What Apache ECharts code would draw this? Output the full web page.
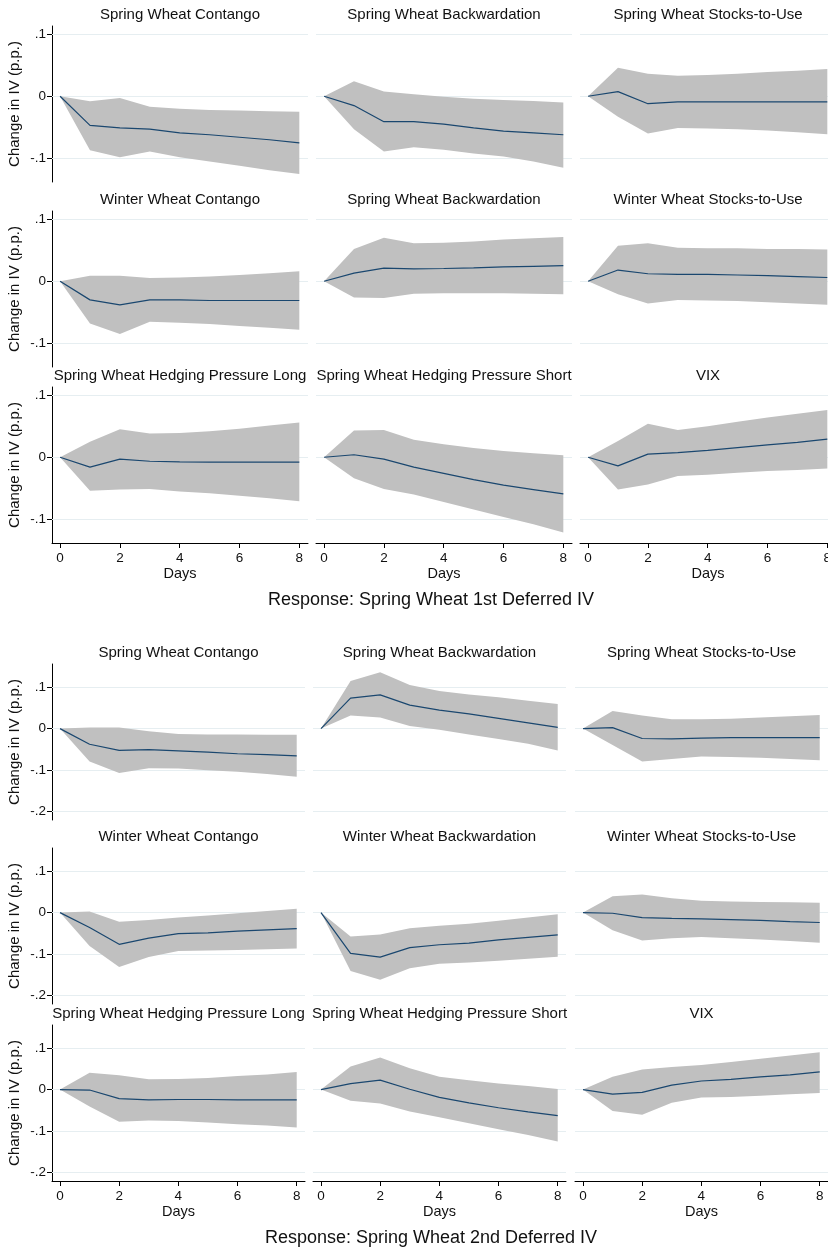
<!DOCTYPE html>
<html>
<head>
<meta charset="utf-8">
<title>Impulse responses</title>
<script src="https://cdn.jsdelivr.net/npm/echarts@6/dist/echarts.min.js"></script>
<style>
  html, body { margin: 0; padding: 0; background: #fff; }
  #irfChart { width: 828px; height: 1251px; }
</style>
</head>
<body>
<div id="irfChart"></div>
<script>
const days = [0, 1, 2, 3, 4, 5, 6, 7, 8];
const xTicks = [0, 2, 4, 6, 8];
const yTicksFirst = [-0.1, 0, 0.1];
const yTicksSecond = [-0.2, -0.1, 0, 0.1];
const panelTitles = [
  'Spring Wheat Contango', 'Spring Wheat Backwardation', 'Spring Wheat Stocks-to-Use',
  'Winter Wheat Contango', 'Spring Wheat Backwardation', 'Winter Wheat Stocks-to-Use',
  'Spring Wheat Hedging Pressure Long', 'Spring Wheat Hedging Pressure Short', 'VIX'
];
const panelTitlesSecond = [
  'Spring Wheat Contango', 'Spring Wheat Backwardation', 'Spring Wheat Stocks-to-Use',
  'Winter Wheat Contango', 'Winter Wheat Backwardation', 'Winter Wheat Stocks-to-Use',
  'Spring Wheat Hedging Pressure Long', 'Spring Wheat Hedging Pressure Short', 'VIX'
];
const responseTitles = ['Response: Spring Wheat 1st Deferred IV', 'Response: Spring Wheat 2nd Deferred IV'];

// Response: 1st deferred IV (irf, lower bound, upper bound)
const a1Irf = [0, -0.047, -0.051, -0.053, -0.059, -0.062, -0.066, -0.070, -0.075];
const a1Lo = [0, -0.087, -0.098, -0.089, -0.098, -0.105, -0.112, -0.119, -0.125];
const a1Hi = [0, -0.008, -0.003, -0.017, -0.020, -0.022, -0.023, -0.024, -0.025];
const a2Irf = [0, -0.015, -0.041, -0.041, -0.045, -0.051, -0.056, -0.059, -0.062];
const a2Lo = [0, -0.053, -0.089, -0.082, -0.086, -0.092, -0.097, -0.105, -0.115];
const a2Hi = [0, 0.024, 0.0075, 0.003, -0.001, -0.004, -0.006, -0.0075, -0.010];
const a3Irf = [0, 0.0075, -0.012, -0.009, -0.009, -0.009, -0.009, -0.009, -0.009];
const a3Lo = [0, -0.033, -0.060, -0.051, -0.052, -0.053, -0.055, -0.058, -0.061];
const a3Hi = [0, 0.046, 0.036, 0.033, 0.034, 0.036, 0.039, 0.041, 0.044];
const a4Irf = [0, -0.030, -0.038, -0.030, -0.030, -0.031, -0.031, -0.031, -0.031];
const a4Lo = [0, -0.068, -0.085, -0.065, -0.067, -0.069, -0.072, -0.075, -0.078];
const a4Hi = [0, 0.009, 0.009, 0.005, 0.006, 0.0075, 0.010, 0.013, 0.016];
const a5Irf = [0, 0.013, 0.021, 0.020, 0.0205, 0.0215, 0.023, 0.024, 0.025];
const a5Lo = [0, -0.026, -0.027, -0.020, -0.0195, -0.0195, -0.0195, -0.020, -0.021];
const a5Hi = [0, 0.052, 0.070, 0.061, 0.062, 0.064, 0.067, 0.069, 0.071];
const a6Irf = [0, 0.018, 0.012, 0.011, 0.011, 0.010, 0.009, 0.0075, 0.006];
const a6Lo = [0, -0.021, -0.036, -0.030, -0.031, -0.032, -0.034, -0.036, -0.038];
const a6Hi = [0, 0.057, 0.061, 0.054, 0.053, 0.053, 0.052, 0.052, 0.051];
const a7Irf = [0, -0.016, -0.003, -0.0065, -0.0075, -0.008, -0.008, -0.008, -0.008];
const a7Lo = [0, -0.054, -0.052, -0.051, -0.055, -0.058, -0.062, -0.066, -0.071];
const a7Hi = [0, 0.025, 0.045, 0.038, 0.039, 0.042, 0.046, 0.051, 0.056];
const a8Irf = [0, 0.004, -0.003, -0.016, -0.026, -0.036, -0.045, -0.052, -0.059];
const a8Lo = [0, -0.034, -0.051, -0.060, -0.072, -0.084, -0.096, -0.108, -0.121];
const a8Hi = [0, 0.043, 0.044, 0.028, 0.021, 0.015, 0.010, 0.0065, 0.003];
const a9Irf = [0, -0.014, 0.005, 0.0075, 0.011, 0.0155, 0.020, 0.024, 0.029];
const a9Lo = [0, -0.052, -0.044, -0.030, -0.028, -0.025, -0.022, -0.0205, -0.018];
const a9Hi = [0, 0.026, 0.054, 0.044, 0.050, 0.057, 0.064, 0.070, 0.076];

// Response: 2nd deferred IV
const b1Irf = [0, -0.038, -0.053, -0.051, -0.054, -0.057, -0.061, -0.063, -0.066];
const b1Lo = [0, -0.080, -0.108, -0.096, -0.097, -0.101, -0.105, -0.110, -0.117];
const b1Hi = [0, 0.003, 0.0025, -0.0065, -0.013, -0.014, -0.014, -0.015, -0.015];
const b2Irf = [0, 0.074, 0.082, 0.057, 0.045, 0.036, 0.025, 0.014, 0.003];
const b2Lo = [0, 0.032, 0.027, 0.0065, -0.0025, -0.014, -0.025, -0.037, -0.053];
const b2Hi = [0, 0.116, 0.137, 0.106, 0.0915, 0.083, 0.076, 0.068, 0.060];
const b3Irf = [0, 0.0025, -0.024, -0.025, -0.023, -0.022, -0.022, -0.022, -0.022];
const b3Lo = [0, -0.040, -0.080, -0.074, -0.068, -0.069, -0.071, -0.074, -0.077];
const b3Hi = [0, 0.043, 0.032, 0.023, 0.023, 0.024, 0.027, 0.030, 0.033];
const b4Irf = [0, -0.036, -0.077, -0.062, -0.051, -0.049, -0.045, -0.042, -0.039];
const b4Lo = [0, -0.081, -0.132, -0.108, -0.093, -0.092, -0.091, -0.089, -0.087];
const b4Hi = [0, 0.0025, -0.022, -0.018, -0.012, -0.007, -0.0015, 0.004, 0.0095];
const b5Irf = [0, -0.099, -0.108, -0.085, -0.078, -0.074, -0.066, -0.060, -0.054];
const b5Lo = [0, -0.142, -0.163, -0.135, -0.124, -0.121, -0.117, -0.112, -0.107];
const b5Hi = [0, -0.058, -0.053, -0.038, -0.032, -0.027, -0.020, -0.012, -0.004];
const b6Irf = [0, -0.0015, -0.012, -0.014, -0.015, -0.017, -0.019, -0.022, -0.024];
const b6Lo = [0, -0.043, -0.068, -0.062, -0.059, -0.062, -0.065, -0.069, -0.073];
const b6Hi = [0, 0.040, 0.044, 0.035, 0.029, 0.027, 0.026, 0.025, 0.024];
const b7Irf = [0, -0.001, -0.022, -0.025, -0.024, -0.024, -0.025, -0.025, -0.025];
const b7Lo = [0, -0.041, -0.078, -0.075, -0.076, -0.080, -0.084, -0.087, -0.092];
const b7Hi = [0, 0.041, 0.035, 0.025, 0.026, 0.028, 0.033, 0.037, 0.043];
const b8Irf = [0, 0.0145, 0.023, 0.001, -0.019, -0.032, -0.044, -0.054, -0.063];
const b8Lo = [0, -0.027, -0.034, -0.053, -0.067, -0.082, -0.096, -0.110, -0.126];
const b8Hi = [0, 0.056, 0.078, 0.052, 0.031, 0.023, 0.015, 0.009, 0.0015];
const b9Irf = [0, -0.011, -0.0065, 0.011, 0.021, 0.025, 0.031, 0.036, 0.043];
const b9Lo = [0, -0.052, -0.061, -0.032, -0.019, -0.018, -0.015, -0.011, -0.008];
const b9Hi = [0, 0.031, 0.049, 0.055, 0.060, 0.067, 0.075, 0.083, 0.091];

const fontFamily = '"Liberation Sans", Arial, sans-serif';
const textColor = '#111';
const bandColor = '#c0c0c0';
const lineColor = '#1a476f';
const gridColor = '#e6eef1';

// one block per response variable
const blocks = [
  {
    titles: panelTitles,
    irf: [a1Irf, a2Irf, a3Irf, a4Irf, a5Irf, a6Irf, a7Irf, a8Irf, a9Irf],
    lo: [a1Lo, a2Lo, a3Lo, a4Lo, a5Lo, a6Lo, a7Lo, a8Lo, a9Lo],
    hi: [a1Hi, a2Hi, a3Hi, a4Hi, a5Hi, a6Hi, a7Hi, a8Hi, a9Hi],
    yTicks: yTicksFirst,
    yMin: -0.138, yMax: 0.113,
    xMin: -0.27, xMax: 8.29,
    top: [26, 211, 387], left: [52, 316, 580], width: 256, height: 156,
    titleY: [15, 200, 376], responseY: 600, response: responseTitles[0]
  },
  {
    titles: panelTitlesSecond,
    irf: [b1Irf, b2Irf, b3Irf, b4Irf, b5Irf, b6Irf, b7Irf, b8Irf, b9Irf],
    lo: [b1Lo, b2Lo, b3Lo, b4Lo, b5Lo, b6Lo, b7Lo, b8Lo, b9Lo],
    hi: [b1Hi, b2Hi, b3Hi, b4Hi, b5Hi, b6Hi, b7Hi, b8Hi, b9Hi],
    yTicks: yTicksSecond,
    yMin: -0.222, yMax: 0.157,
    xMin: -0.27, xMax: 8.28,
    top: [664, 848, 1025], left: [52, 313, 575], width: 253, height: 156,
    titleY: [653, 837, 1014], responseY: 1238, response: responseTitles[1]
  }
];

function tickFmt (v) {
  if (Math.abs(v) < 1e-9) return '0';
  return String(Math.round(v * 10) / 10).replace('0.', '.');
}

// confidence band drawn once as a polygon through the axis scales
function bandRenderer (lo, hi) {
  return function (params, api) {
    if (params.dataIndex !== 0) return null;
    const points = [];
    days.forEach((d, j) => points.push(api.coord([d, hi[j]])));
    for (let j = days.length - 1; j >= 0; j--) {
      points.push(api.coord([days[j], lo[j]]));
    }
    return {
      type: 'polygon',
      shape: { points: points },
      style: { fill: bandColor, stroke: null }
    };
  };
}

const grids = [];
const xAxes = [];
const yAxes = [];
const series = [];
const texts = [];

blocks.forEach(b => {
  for (let i = 0; i < 9; i++) {
    const r = Math.floor(i / 3);
    const c = i % 3;
    const k = grids.length;
    const bottomRow = r === 2;
    const firstCol = c === 0;
    grids.push({
      left: b.left[c],
      top: b.top[r],
      width: b.width,
      height: b.height,
      containLabel: false,
      outerBoundsMode: 'none'
    });
    xAxes.push({
      type: 'value',
      gridIndex: k,
      min: b.xMin,
      max: b.xMax,
      axisLine: { show: bottomRow, onZero: false, lineStyle: { color: '#000', width: 1 } },
      axisTick: { show: bottomRow, customValues: xTicks, length: 5, lineStyle: { color: '#000' } },
      axisLabel: { show: bottomRow, customValues: xTicks, margin: 8, fontSize: 13.5, color: textColor, fontFamily: fontFamily },
      splitLine: { show: false },
      name: bottomRow ? 'Days' : '',
      nameLocation: 'middle',
      nameGap: 23,
      nameTextStyle: { fontSize: 14.5, color: textColor, fontFamily: fontFamily }
    });
    yAxes.push({
      type: 'value',
      gridIndex: k,
      min: b.yMin,
      max: b.yMax,
      axisLine: { show: firstCol, onZero: false, lineStyle: { color: '#000', width: 1 } },
      axisTick: { show: firstCol, customValues: b.yTicks, length: 5, lineStyle: { color: '#000' } },
      axisLabel: { show: firstCol, customValues: b.yTicks, margin: 6, fontSize: 13.5, color: textColor, fontFamily: fontFamily, formatter: tickFmt },
      splitLine: { show: false },
      name: firstCol ? 'Change in IV (p.p.)' : '',
      nameLocation: 'middle',
      nameGap: 30,
      nameTextStyle: { fontSize: 15, color: textColor, fontFamily: fontFamily }
    });
    const lo = b.lo[i];
    const hi = b.hi[i];
    const irf = b.irf[i];
    series.push({
      type: 'custom',
      xAxisIndex: k,
      yAxisIndex: k,
      data: days.map((d, j) => [d, lo[j], hi[j]]),
      encode: { x: 0, y: [1, 2] },
      renderItem: bandRenderer(lo, hi),
      silent: true,
      z: 2,
      markLine: {
        silent: true,
        z: 1,
        symbol: ['none', 'none'],
        label: { show: false },
        lineStyle: { color: gridColor, width: 1, type: 'solid' },
        data: b.yTicks.map(v => ({ yAxis: v }))
      }
    });
    series.push({
      type: 'line',
      xAxisIndex: k,
      yAxisIndex: k,
      data: days.map((d, j) => [d, irf[j]]),
      symbol: 'none',
      silent: true,
      lineStyle: { color: lineColor, width: 1.2 },
      z: 4
    });
    texts.push({
      type: 'text',
      x: b.left[c] + b.width / 2,
      y: b.titleY[r],
      style: {
        text: b.titles[i],
        fill: textColor,
        font: '15px ' + fontFamily,
        align: 'center',
        verticalAlign: 'middle',
        textAlign: 'center',
        textVerticalAlign: 'middle'
      }
    });
  }
  texts.push({
    type: 'text',
    x: 431,
    y: b.responseY,
    style: {
      text: b.response,
      fill: textColor,
      font: '18px ' + fontFamily,
      align: 'center',
      verticalAlign: 'middle',
      textAlign: 'center',
      textVerticalAlign: 'middle'
    }
  });
});

const myChart = echarts.init(document.getElementById('irfChart'));
myChart.setOption({
  backgroundColor: '#fff',
  animation: false,
  grid: grids,
  xAxis: xAxes,
  yAxis: yAxes,
  series: series,
  graphic: { elements: texts }
});
</script>
</body>
</html>
